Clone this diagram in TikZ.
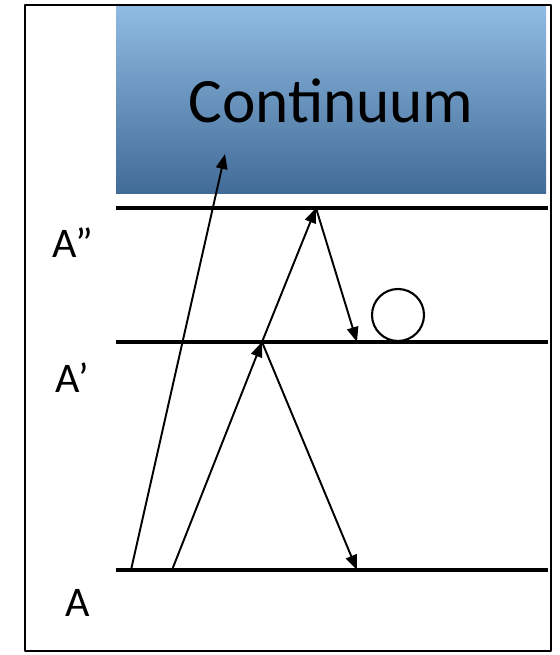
\documentclass[tikz,border=0pt]{standalone}
\usepackage{fontspec}
\setmainfont{Carlito}
\usepackage{tikz}
\usetikzlibrary{calc,arrows.meta}
\definecolor{contTop}{RGB}{143,186,225}
\definecolor{contBot}{RGB}{66,108,152}

\begin{document}
\begin{tikzpicture}[x=0.02cm,y=-0.02cm,>={Triangle[length=8.5pt,width=6.5pt]},line join=round,font=\fontsize{24}{28}\selectfont]
  \useasboundingbox (0,0) rectangle (559,655);
  \draw[line width=1.1pt] (25,5) rectangle (551,651);

  % continuum band
  \shade[top color=contTop, bottom color=contBot] (116,7) rectangle (546,193);
  \node[font=\fontsize{36}{40}\selectfont] (cont) at (331,101) {Continuum};

  % levels
  \coordinate (A2l) at (116,208); \coordinate (A2r) at (548,208);
  \coordinate (A1l) at (116,342); \coordinate (A1r) at (548,342);
  \coordinate (A0l) at (116,570); \coordinate (A0r) at (548,570);
  \draw[line width=2.7pt] (A2l) -- (A2r);
  \draw[line width=2.7pt] (A1l) -- (A1r);
  \draw[line width=2.7pt] (A0l) -- (A0r);
  \node (lA2) at (73,243) {A”};
  \node (lA1) at (72,378) {A’};
  \node (lA0) at (78,603) {A};

  % transitions
  \coordinate (p1) at (131,570);
  \coordinate (p2) at (172,570);
  \coordinate (q1) at (262,342);
  \coordinate (q2) at (357,342);
  \coordinate (r1) at (316,208);
  \coordinate (c1) at (225,154);
  \coordinate (s1) at (357,570);
  \draw[->, line width=1.1pt] (p1) -- (c1);
  \draw[->, line width=1.1pt] (p2) -- (q1);
  \draw[->, line width=1.1pt] (q1) -- (r1);
  \draw[->, line width=1.1pt] (r1) -- (q2);
  \draw[->, line width=1.1pt] (q1) -- (s1);
  \draw[line width=1.2pt] (398,315) circle (26);
\end{tikzpicture}
\end{document}
